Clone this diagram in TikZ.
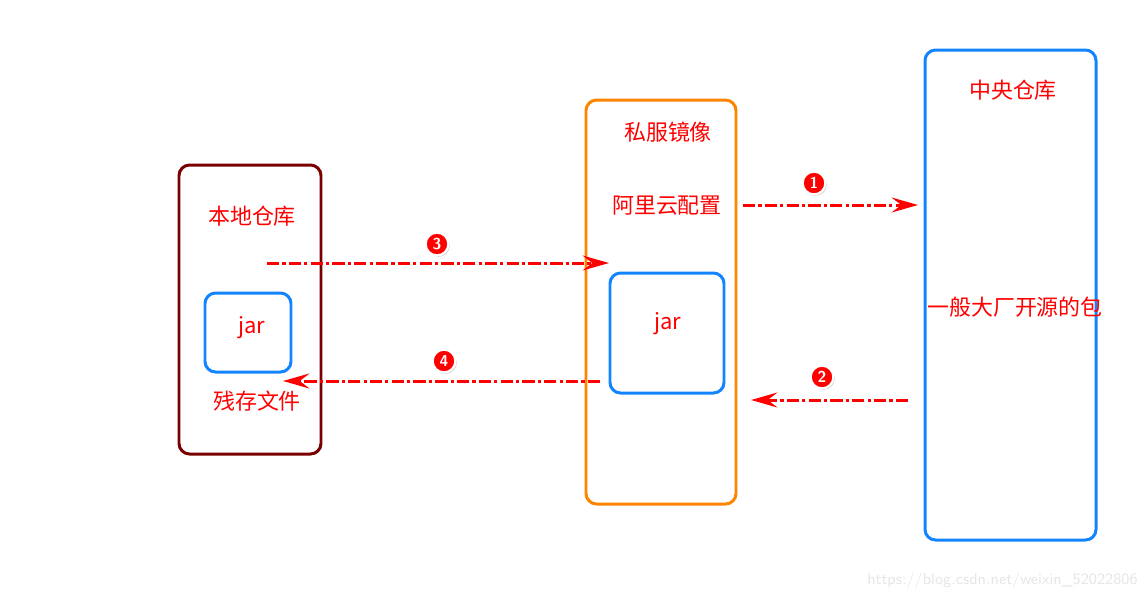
\documentclass[tikz,border=0pt]{standalone}
\usepackage{fontspec}
\newfontfamily\cjk{Noto Sans CJK SC}
\usetikzlibrary{arrows.meta,shadows}
\definecolor{darkred}{RGB}{122,0,0}
\definecolor{orng}{RGB}{255,133,0}
\definecolor{blu}{RGB}{18,132,255}
\definecolor{wm}{RGB}{230,230,230}
\tikzset{
  frame/.style={draw, line width=1.7pt, rounded corners=6pt},
  lbl/.style={text=red, font=\cjk\fontsize{12.5}{14}\selectfont, inner sep=0pt},
  flow/.style={red, line width=1.7pt, dash pattern=on 7pt off 1.8pt on 1.8pt off 1.8pt,
     -{Stealth[length=15pt,width=8.5pt,inset=5.5pt]}},
  num/.style={circle, fill=red, draw=white, line width=1.3pt, inner sep=0pt, minimum size=13pt,
     text=white, font=\sffamily\bfseries\fontsize{9}{10}\selectfont,
     drop shadow={shadow xshift=0.8pt, shadow yshift=-0.8pt, opacity=0.4}}
}
\begin{document}
\begin{tikzpicture}[x=0.02cm,y=-0.02cm]
\useasboundingbox (0,0) rectangle (1147,600);
% frames
\draw[frame, darkred] (179,165) rectangle (321,454);
\draw[frame, blu] (205,293) rectangle (291,372);
\draw[frame, orng] (586,100) rectangle (736,504);
\draw[frame, blu] (610,273) rectangle (724,393);
\draw[frame, blu] (925,50) rectangle (1096,540);
% labels
\node[lbl] (lr) at (252,216) {本地仓库};
\node[lbl] (ljar) at (252,328) {jar};
\node[lbl] (lres) at (257,401) {残存文件};
\node[lbl] (ps) at (668,132) {私服镜像};
\node[lbl] (ali) at (667,206) {阿里云配置};
\node[lbl] (pjar) at (668,324) {jar};
\node[lbl] (cr) at (1013,90) {中央仓库};
\node[lbl] (pkg) at (1015,307) {一般大厂开源的包};
% arrow endpoints
\coordinate (a1s) at (743,205); \coordinate (a1e) at (918,205);
\coordinate (a3s) at (267,263); \coordinate (a3e) at (609,263);
\coordinate (a4s) at (600,381); \coordinate (a4e) at (283,381);
\coordinate (a2s) at (908,400); \coordinate (a2e) at (751,400);
\draw[flow] (a1s) -- (a1e);
\draw[flow] (a3s) -- (a3e);
\draw[flow] (a4s) -- (a4e);
\draw[flow] (a2s) -- (a2e);
% numbers
\node[num] (n1) at (814,183) {1};
\node[num] (n2) at (822,377) {2};
\node[num] (n3) at (437,244) {3};
\node[num] (n4) at (444,361) {4};
% watermark
\node[text=wm, font=\sffamily\fontsize{9}{10}\selectfont, anchor=east, inner sep=0pt] (wmk) at (1138,581) {https://blog.csdn.net/weixin\_52022806};
\end{tikzpicture}
\end{document}
